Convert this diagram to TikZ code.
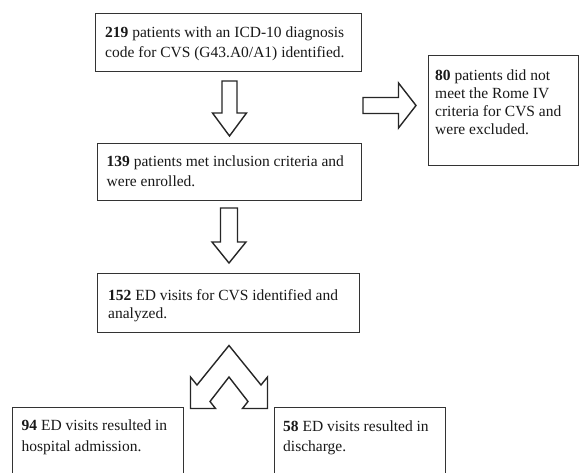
\documentclass[tikz,border=0pt]{standalone}
\usepackage{fontspec}
\setmainfont{Liberation Serif}
\begin{document}
\begin{tikzpicture}[x=1pt,y=-1pt,
  box/.style={draw=black!80, line width=1.3pt, rectangle, inner sep=0pt, anchor=north west},
  txt/.style={anchor=north west, inner sep=0pt, align=left, text=black!90},
  barrow/.style={draw=black!85, line width=1.4pt, fill=white, line join=miter}]
\useasboundingbox (0,0) rectangle (579,473);
\fill[white] (0,0) rectangle (579,473);
\clip (0,0) rectangle (579,473);

% boxes
\node[box, minimum width=266pt, minimum height=58pt] (b1) at (94.5,13) {};
\node[box, minimum width=264pt, minimum height=57pt] (b2) at (97,143) {};
\node[box, minimum width=150pt, minimum height=110pt] (b3) at (428,55) {};
\node[box, minimum width=262pt, minimum height=59pt] (b4) at (97,273) {};
\node[box, minimum width=171pt, minimum height=85pt] (b5) at (12,407) {};
\node[box, minimum width=171pt, minimum height=85pt] (b6) at (274,407) {};

% texts
\node[txt, font=\fontsize{15.5}{20}\selectfont] (t1) at (105,27)
  {\textbf{219} patients with an ICD-10 diagnosis\\code for CVS (G43.A0/A1) identified.};
\node[txt, font=\fontsize{15.5}{20}\selectfont] (t2) at (106.5,156)
  {\textbf{139} patients met inclusion criteria and\\were enrolled.};
\node[txt, font=\fontsize{15.5}{18}\selectfont] (t3) at (435,70)
  {\textbf{80} patients did not\\meet the Rome IV\\criteria for CVS and\\were excluded.};
\node[txt, font=\fontsize{15.5}{18}\selectfont] (t4) at (108,289)
  {\textbf{152} ED visits for CVS identified and\\analyzed.};
\node[txt, font=\fontsize{15.5}{21}\selectfont] (t5) at (21.5,420)
  {\textbf{94} ED visits resulted in\\hospital admission.};
\node[txt, font=\fontsize{15.5}{20}\selectfont] (t6) at (283,421)
  {\textbf{58} ED visits resulted in\\discharge.};

% block arrow b1 -> b2
\draw[barrow] (222,81) -- (237,81) -- (237,113) -- (246.5,113) -- (229.5,136)
  -- (212.5,113) -- (222,113) -- cycle;
% block arrow b2 -> b4
\draw[barrow] (220.5,208) -- (237.5,208) -- (237.5,242) -- (246,242) -- (229,263)
  -- (212,242) -- (220.5,242) -- cycle;
% block arrow b1/b2 -> b3
\draw[barrow] (363,97.5) -- (398.5,97.5) -- (398.5,83) -- (416,105.5)
  -- (398.5,128) -- (398.5,113.5) -- (363,113.5) -- cycle;
% split arrow b4 -> b5, b6
\draw[barrow] (229,345.5) -- (261,385) -- (267.5,377) -- (267.5,408.5) -- (242.5,408.5)
  -- (248,401.5) -- (229,377) -- (210,401.5) -- (215.5,408.5) -- (190.5,408.5)
  -- (190.5,377) -- (197,385) -- cycle;
\end{tikzpicture}
\end{document}
